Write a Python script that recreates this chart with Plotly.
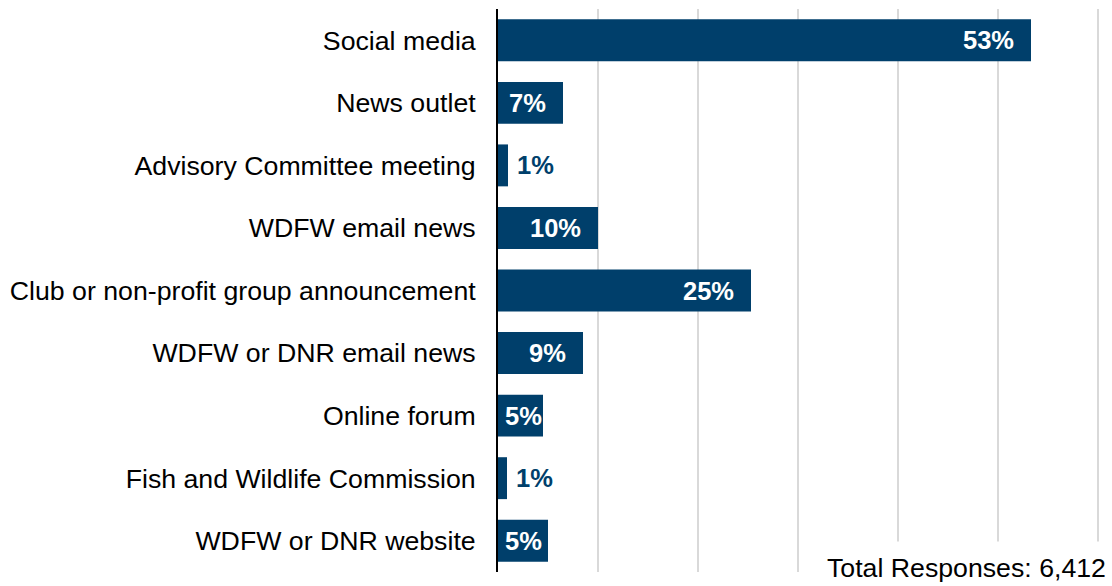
import plotly.graph_objects as go

# %%
categories = [
    "Social media",
    "News outlet",
    "Advisory Committee meeting",
    "WDFW email news",
    "Club or non-profit group announcement",
    "WDFW or DNR email news",
    "Online forum",
    "Fish and Wildlife Commission",
    "WDFW or DNR website",
]
values = [53.3, 6.5, 1.0, 10.0, 25.3, 8.5, 4.5, 0.9, 5.0]
labels = ["53%", "7%", "1%", "10%", "25%", "9%", "5%", "1%", "5%"]
total_note = "Total Responses: 6,412"

navy = "#003f6b"
font = "Arial, Liberation Sans, sans-serif"

# %%
fig = go.Figure(
    go.Bar(
        x=values,
        y=categories,
        orientation="h",
        marker=dict(color=navy, line=dict(width=0)),
        hoverinfo="x+y",
    )
)

# data labels: inside end for wide bars, pushed to the bar start for narrow
# ones, and outside for the tiny ones
for cat, val, lab in zip(categories, values, labels):
    if val >= 6:
        ann = dict(x=val, xanchor="right", xshift=-15, color="white")
    elif val >= 2:
        ann = dict(x=0, xanchor="left", xshift=5, color="white")
    else:
        ann = dict(x=val, xanchor="left", xshift=7, color=navy)
    fig.add_annotation(
        x=ann["x"],
        y=cat,
        text=f"<b>{lab}</b>",
        showarrow=False,
        xanchor=ann["xanchor"],
        xshift=ann["xshift"],
        font=dict(family=font, size=25.5, color=ann["color"]),
    )

fig.add_annotation(
    text=total_note,
    xref="paper",
    yref="paper",
    x=1,
    y=0,
    xanchor="right",
    yanchor="middle",
    xshift=6,
    yshift=4,
    showarrow=False,
    bgcolor="white",
    borderpad=11,
    font=dict(family=font, size=26.7, color="black"),
)

fig.update_layout(
    width=1112,
    height=586,
    margin=dict(l=498, r=0, t=9, b=14),
    plot_bgcolor="white",
    paper_bgcolor="white",
    bargap=0.33,
    showlegend=False,
    font=dict(family=font, size=26.5, color="black"),
    xaxis=dict(
        range=[0, 61.4],
        dtick=10,
        showgrid=True,
        gridcolor="#d9d9d9",
        gridwidth=2,
        zeroline=False,
        showticklabels=False,
        fixedrange=True,
    ),
    yaxis=dict(
        autorange="reversed",
        showline=True,
        linecolor="black",
        linewidth=2,
        ticks="",
        ticklabelstandoff=15,
        tickfont=dict(family=font, size=26.7, color="black"),
        fixedrange=True,
    ),
)

fig.write_html(
    "out.html",
    config={"displayModeBar": False},
    post_script="document.body.style.margin='0';",
)
